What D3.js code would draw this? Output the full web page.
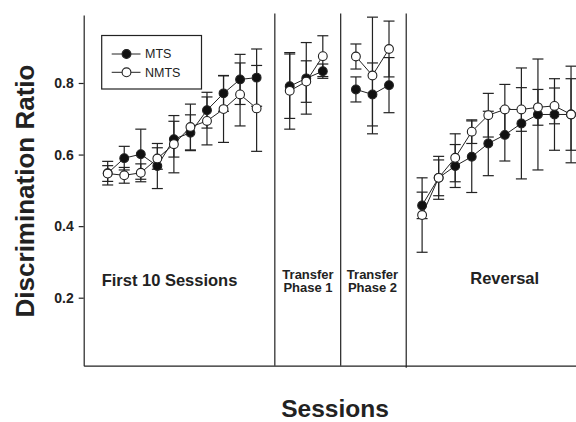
<!DOCTYPE html>
<html>
<head>
<meta charset="utf-8">
<script src="https://cdn.jsdelivr.net/npm/d3@7"></script>
<style>
  html, body { margin: 0; padding: 0; background: #fff; }
  svg { display: block; overflow: hidden; }
  text { font-family: "Liberation Sans", Arial, Helvetica, sans-serif; fill: #222; }
</style>
</head>
<body>
<svg id="chart" width="576" height="422"></svg>
<script>
// Phases of the experiment and the session slot where each one starts
const phaseNames = ["First 10 Sessions", "Transfer Phase 1", "Transfer Phase 2", "Reversal"];
const phaseStart = [0, 11, 15, 19];
// Slots of the vertical phase separators
const dividerSlots = [10.1, 14.08, 18.04];

// Mean discrimination ratio and error (±) per session, by phase
const mtsMean = [
  [0.548, 0.590, 0.601, 0.568, 0.643, 0.661, 0.724, 0.771, 0.810, 0.815],
  [0.791, 0.813, 0.833],
  [0.782, 0.768, 0.794],
  [0.458, 0.535, 0.568, 0.594, 0.631, 0.655, 0.687, 0.712, 0.712, 0.712]
];
const mtsErr = [
  [0.033, 0.033, 0.070, 0.063, 0.050, 0.050, 0.050, 0.050, 0.070, 0.080],
  [0.090, 0.100, 0.020],
  [0.035, 0.088, 0.077],
  [0.037, 0.060, 0.060, 0.100, 0.090, 0.073, 0.155, 0.155, 0.100, 0.100]
];
const nmtsMean = [
  [0.547, 0.542, 0.549, 0.589, 0.629, 0.677, 0.694, 0.727, 0.768, 0.729],
  [0.778, 0.804, 0.875],
  [0.874, 0.821, 0.895],
  [0.431, 0.535, 0.591, 0.664, 0.710, 0.726, 0.726, 0.732, 0.736, 0.712]
];
const nmtsErr = [
  [0.022, 0.022, 0.025, 0.030, 0.080, 0.064, 0.067, 0.093, 0.088, 0.120],
  [0.107, 0.058, 0.057],
  [0.035, 0.163, 0.078],
  [0.104, 0.050, 0.067, 0.033, 0.061, 0.070, 0.061, 0.050, 0.050, 0.135]
];

const yTicks = [0.2, 0.4, 0.6, 0.8];
const seriesNames = ["MTS", "NMTS"];

const svg = d3.select("#chart");
const ink = "#222";

const x = d3.scaleLinear().domain([-1.45, 28.3]).range([83.7, 576]);
const y = d3.scaleLinear().domain([0.01, 0.99]).range([365.7, 15]);

// Axes
const yAxis = d3.axisLeft(y).tickValues(yTicks).tickFormat(d3.format(".1f"))
  .tickSize(5).tickSizeOuter(0).tickPadding(5);
const gy = svg.append("g").attr("transform", `translate(${x.range()[0]},0)`).call(yAxis);
gy.select(".domain").attr("stroke", ink).attr("stroke-width", 1.2);
gy.selectAll(".tick line").attr("stroke", ink).attr("stroke-width", 1.2);
gy.selectAll(".tick text").attr("font-size", 14).attr("font-weight", "bold")
  .attr("font-family", "'Liberation Sans', Arial, sans-serif").attr("fill", ink);

const xAxis = d3.axisBottom(x).tickValues([]).tickSizeOuter(0);
const gx = svg.append("g").attr("transform", `translate(0,${y.range()[0]})`).call(xAxis);
gx.select(".domain").attr("stroke", ink).attr("stroke-width", 1.2);

// Phase separators
svg.append("g").selectAll("line").data(dividerSlots).join("line")
  .attr("x1", d => x(d)).attr("x2", d => x(d))
  .attr("y1", 13.5).attr("y2", (d, i) => y.range()[0] + (i === 2 ? 2 : 0))
  .attr("stroke", ink).attr("stroke-width", 1.2);

// Build point records for every series
function records(means, errs, series) {
  return means.map((arr, p) => arr.map((m, k) => ({
    series, phase: p, slot: phaseStart[p] + k, mean: m, err: errs[p][k]
  })));
}
const seriesData = [records(mtsMean, mtsErr, 0), records(nmtsMean, nmtsErr, 1)];

const plot = svg.append("g");
const capHalf = 5.5;

// Error bars
seriesData.forEach(phases => {
  const pts = phases.flat();
  const g = plot.append("g").attr("stroke", ink).attr("stroke-width", 1.2);
  g.selectAll(".stem").data(pts).join("line")
    .attr("x1", d => x(d.slot)).attr("x2", d => x(d.slot))
    .attr("y1", d => y(d.mean - d.err)).attr("y2", d => y(d.mean + d.err));
  g.selectAll(".capTop").data(pts).join("line")
    .attr("x1", d => x(d.slot) - capHalf).attr("x2", d => x(d.slot) + capHalf)
    .attr("y1", d => y(d.mean + d.err)).attr("y2", d => y(d.mean + d.err));
  g.selectAll(".capBot").data(pts).join("line")
    .attr("x1", d => x(d.slot) - capHalf).attr("x2", d => x(d.slot) + capHalf)
    .attr("y1", d => y(d.mean - d.err)).attr("y2", d => y(d.mean - d.err));
});

// Connecting lines within each phase
const line = d3.line().x(d => x(d.slot)).y(d => y(d.mean));
seriesData.forEach(phases => {
  plot.append("g").selectAll("path").data(phases).join("path")
    .attr("d", line).attr("fill", "none").attr("stroke", ink).attr("stroke-width", 1);
});

// Markers: filled for MTS, open for NMTS
seriesData.forEach((phases, s) => {
  plot.append("g").selectAll("circle").data(phases.flat()).join("circle")
    .attr("cx", d => x(d.slot)).attr("cy", d => y(d.mean)).attr("r", 4.4)
    .attr("fill", s === 0 ? "#111" : "#fff").attr("stroke", ink).attr("stroke-width", 1.1);
});

// Phase labels
const labels = svg.append("g").attr("font-weight", "bold").attr("text-anchor", "middle");
labels.append("text").attr("x", 169.5).attr("y", 286).attr("font-size", 16.5).text(phaseNames[0]);
labels.append("text").attr("x", 504.7).attr("y", 283.5).attr("font-size", 16.5).text(phaseNames[3]);
[[phaseNames[1], 308], [phaseNames[2], 372.5]].forEach(([name, cx]) => {
  const parts = name.split(" ");
  const t = labels.append("text").attr("x", cx).attr("y", 278.5).attr("font-size", 13);
  t.append("tspan").attr("x", cx).text(parts[0]);
  t.append("tspan").attr("x", cx).attr("dy", 13.5).text(parts.slice(1).join(" "));
});

// Legend
const legend = svg.append("g");
legend.append("rect").attr("x", 101.7).attr("y", 35.5).attr("width", 99.8).attr("height", 53.5)
  .attr("fill", "#fff").attr("stroke", ink).attr("stroke-width", 1.2);
seriesNames.forEach((name, i) => {
  const ly = 54 + i * 18.3;
  legend.append("line").attr("x1", 111.7).attr("x2", 140.5).attr("y1", ly).attr("y2", ly)
    .attr("stroke", ink).attr("stroke-width", 1);
  legend.append("circle").attr("cx", 126.5).attr("cy", ly).attr("r", 4.4)
    .attr("fill", i === 0 ? "#111" : "#fff").attr("stroke", ink).attr("stroke-width", 1.1);
  legend.append("text").attr("x", 145).attr("y", ly + 4.3).attr("font-size", 12.5).text(name);
});

// Axis titles
svg.append("text").attr("x", 335).attr("y", 417).attr("text-anchor", "middle")
  .attr("font-size", 24.5).attr("font-weight", "bold").text("Sessions");
svg.append("text").attr("transform", "translate(34,191) rotate(-90)").attr("text-anchor", "middle")
  .attr("font-size", 26).attr("font-weight", "bold").text("Discrimination Ratio");
</script>
</body>
</html>
